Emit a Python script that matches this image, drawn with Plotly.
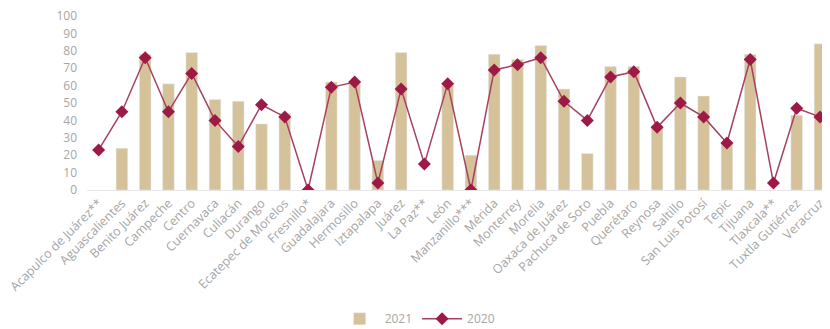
import plotly.graph_objects as go

cities = [
    "Acapulco de Juárez**", "Aguascalientes", "Benito Juárez", "Campeche", "Centro",
    "Cuernavaca", "Culiacán", "Durango", "Ecatepec de Morelos", "Fresnillo*",
    "Guadalajara", "Hermosillo", "Iztapalapa", "Juárez", "La Paz**", "León",
    "Manzanillo***", "Mérida", "Monterrey", "Morelia", "Oaxaca de Juárez",
    "Pachuca de Soto", "Puebla", "Querétaro", "Reynosa", "Saltillo",
    "San Luis Potosí", "Tepic", "Tijuana", "Tlaxcala**", "Tuxtla Gutiérrez", "Veracruz",
]

vals_2021 = [None, 24, 78, 61, 79, 52, 51, 38, 44, None, 62, 61, 17, 79, None, 60,
             20, 78, 75, 83, 58, 21, 71, 71, 37, 65, 54, 27, 78, None, 43, 84]

vals_2020 = [23, 45, 76, 45, 67, 40, 25, 49, 42, 0, 59, 62, 4, 58, 15, 61,
             0, 69, 72, 76, 51, 40, 65, 68, 36, 50, 42, 27, 75, 4, 47, 42]

y_ticks = list(range(0, 101, 10))

fig = go.Figure()
fig.add_trace(go.Bar(
    x=cities, y=vals_2021, name="2021",
    marker=dict(color="#d5c29a"), width=0.5,
))
fig.add_trace(go.Scatter(
    x=cities, y=vals_2020, name="2020", mode="lines+markers",
    line=dict(color="#a8405f", width=1.5),
    marker=dict(symbol="diamond", size=10, color="#9e1a46"),
))

# page body has an 8px margin, so the figure sits 8px in from the top-left
fig.update_layout(
    width=822, height=329,
    margin=dict(l=79, r=0, t=8, b=147, autoexpand=False),
    paper_bgcolor="white", plot_bgcolor="white",
    font=dict(family="Open Sans", color="#a6a6a6", size=12),
    showlegend=True,
    legend=dict(orientation="h", x=0.445, xanchor="center", y=-0.74, yanchor="middle",
                itemwidth=40, font=dict(size=12, color="#a6a6a6")),
    bargap=0.5,
)
fig.update_xaxes(
    range=[-0.5, 31.43], tickangle=-45, showgrid=False,
    showline=True, linecolor="#e6e6e6", linewidth=1, ticks="",
    tickfont=dict(size=12.5, color="#a6a6a6"),
)
fig.update_yaxes(
    range=[0, 100], tickvals=y_ticks, showgrid=False, zeroline=False,
    showline=False, ticklabeloverflow="allow", ticklabelstandoff=9,
    tickfont=dict(size=12, color="#a6a6a6"),
)

fig.write_html("out.html")
